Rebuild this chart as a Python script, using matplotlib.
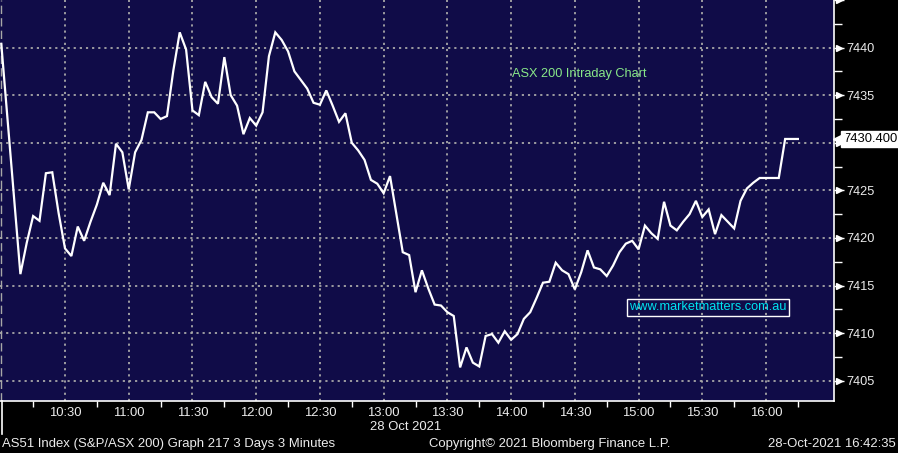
import matplotlib
matplotlib.use("Agg")
import matplotlib.pyplot as plt
import matplotlib.transforms as mtransforms
from matplotlib.lines import Line2D

plt.rcParams['font.family'] = ['Liberation Sans', 'DejaVu Sans']

# ASX 200 intraday, 3 minute bars. First bar joins the previous close,
# then prints start after the opening auction at 10:09.
prev_close = 7440.4
first_bar = "10:09"
last_bar = "16:15"
closes = [
    7416.2, 7419.5, 7422.3, 7421.8, 7426.8, 7426.9, 7422.6, 7418.9, 7418.1, 7421.2,
    7419.7, 7421.7, 7423.5, 7425.8, 7424.5, 7429.9, 7429.0, 7425.1, 7429.0, 7430.3,
    7433.2, 7433.2, 7432.5, 7432.8, 7437.6, 7441.6, 7439.8, 7433.4, 7432.9, 7436.4,
    7434.8, 7434.1, 7439.0, 7435.0, 7433.9, 7430.9, 7432.6, 7431.8, 7433.2, 7439.1,
    7441.6, 7440.8, 7439.6, 7437.5, 7436.6, 7435.7, 7434.2, 7434.0, 7435.5, 7433.9,
    7432.2, 7433.1, 7430.0, 7429.2, 7428.2, 7426.1, 7425.7, 7424.7, 7426.5, 7422.5,
    7418.5, 7418.2, 7414.3, 7416.6, 7414.7, 7413.0, 7412.9, 7412.2, 7411.8, 7406.4,
    7408.5, 7406.9, 7406.5, 7409.7, 7409.9, 7409.0, 7410.2, 7409.3, 7409.9, 7411.5,
    7412.2, 7413.7, 7415.3, 7415.4, 7417.4, 7416.6, 7416.2, 7414.6, 7416.4, 7418.7,
    7416.9, 7416.7, 7416.0, 7417.1, 7418.5, 7419.4, 7419.7, 7418.8, 7421.3, 7420.5,
    7419.9, 7423.8, 7421.3, 7420.8, 7421.7, 7422.5, 7423.9, 7422.2, 7423.0, 7420.4,
    7422.4, 7421.7, 7421.0, 7423.9, 7425.2, 7425.8, 7426.3, 7426.3, 7426.3, 7426.3,
    7430.4, 7430.4, 7430.4,
]
last_price = 7430.4

x_labels = ["10:30", "11:00", "11:30", "12:00", "12:30", "13:00", "13:30",
            "14:00", "14:30", "15:00", "15:30", "16:00"]
x_minor = ["10:15", "10:45", "11:15", "11:45", "12:15", "12:45", "13:15",
           "13:45", "14:15", "14:45", "15:15", "15:45", "16:15"]
y_major = [7405, 7410, 7415, 7420, 7425, 7430, 7435, 7440, 7445]
y_labels = ["7405", "7410", "7415", "7420", "7425", "", "7435", "7440", ""]
y_minor = [7407.5, 7412.5, 7417.5, 7422.5, 7427.5, 7432.5, 7437.5, 7442.5]


def mins(hhmm):
    h, m = hhmm.split(":")
    return (int(h) - 10) * 60 + int(m)


t = [0] + list(range(mins(first_bar), mins(last_bar) + 1, 3))
v = [prev_close] + closes

BG = "#100c48"
GRID = "#a8a8a8"
TXT = "#ececec"

fig = plt.figure(figsize=(8.98, 4.53), dpi=100, facecolor="black")
ax = fig.add_axes([0, 1 - 401 / 453, 834 / 898, 401 / 453], facecolor=BG)

ax.plot(t, v, color="white", lw=1.6, solid_joinstyle="miter", zorder=3)

ax.set_xlim(-0.6, 392)
ax.set_ylim(7402.87, 7445.0)

# grid
for lab in x_labels:
    ax.axvline(mins(lab), color=GRID, ls=(0, (1.2, 2.2)), lw=1.3, zorder=1)
for y in y_major[:-1]:
    ax.axhline(y, color=GRID, ls=(0, (1.2, 2.2)), lw=1.3, zorder=1)
ax.axvline(-0.35, color=GRID, ls=(0, (6, 3)), lw=1.0, zorder=1)

# spines
for s in ["left", "top"]:
    ax.spines[s].set_visible(False)
ax.spines["right"].set_color("white")
ax.spines["bottom"].set_color("white")
ax.spines["right"].set_linewidth(1.2)
ax.spines["bottom"].set_linewidth(1.2)

# x axis
ax.set_xticks([mins(s) for s in x_labels])
ax.set_xticklabels(x_labels)
ax.set_xticks([mins(s) for s in x_minor], minor=True)
ax.tick_params(axis="x", which="major", length=0, pad=4, labelsize=9.4,
               labelcolor=TXT)
ax.tick_params(axis="x", which="minor", length=4, width=1, color="white")

# y axis on the right
ax.yaxis.tick_right()
ax.set_yticks(y_major)
ax.set_yticklabels(y_labels)
ax.set_yticks(y_minor, minor=True)
ax.tick_params(axis="y", which="major", length=7, width=1, color="white",
               pad=2, labelsize=9.2, labelcolor=TXT)
ax.tick_params(axis="y", which="minor", length=6, width=1, color="white")

tri_tr = mtransforms.blended_transform_factory(ax.transAxes, ax.transData)
tri_tr = mtransforms.offset_copy(tri_tr, fig=fig, x=5, y=0, units="dots")
ax.plot([1] * len(y_major), y_major, ls="none", marker=">", ms=5, color="white",
        transform=tri_tr, clip_on=False, zorder=5)

# last price tag
blend = mtransforms.blended_transform_factory(ax.transAxes, ax.transData)
tag_tr = mtransforms.offset_copy(blend, fig=fig, x=5, y=0, units="dots")
ax.plot([1], [last_price], ls="none", marker="<", ms=8, color="white",
        transform=tag_tr, clip_on=False, zorder=6)
ax.annotate(f"{last_price:.3f}", xy=(1, last_price), xycoords=blend,
            xytext=(9, 0), textcoords="offset pixels", ha="left", va="center",
            fontsize=9.4, color="black", annotation_clip=False,
            bbox=dict(boxstyle="square,pad=0.18", fc="white", ec="white"))

# annotations inside the plot
ax.text(512 / 834, 1 - 74 / 401, "ASX 200 Intraday Chart", transform=ax.transAxes,
        ha="left", va="center", fontsize=9.2, color="#88e888")
ax.text(708 / 834, 1 - 307.5 / 401, "www.marketmatters.com.au",
        transform=ax.transAxes, ha="center", va="center", fontsize=9.2,
        color="#00e4f0",
        bbox=dict(boxstyle="square,pad=0.2", fc="none", ec="white", lw=1))

# day separator below the axis
fig.add_artist(Line2D([1.5 / 898, 1.5 / 898], [1 - 401 / 453, 1 - 434 / 453],
                      color="white", lw=1.2, transform=fig.transFigure))

# footer
fig.text(406 / 898, 1 - 427 / 453, "28 Oct 2021", ha="center", va="center",
         fontsize=9.4, color=TXT)
fig.text(2 / 898, 1 - 444 / 453, "AS51 Index (S&P/ASX 200) Graph 217 3 Days 3 Minutes",
         ha="left", va="center", fontsize=9.45, color=TXT)
fig.text(429 / 898, 1 - 444 / 453, "Copyright\u00a9 2021 Bloomberg Finance L.P.",
         ha="left", va="center", fontsize=9.45, color=TXT)
fig.text(896 / 898, 1 - 444 / 453, "28-Oct-2021 16:42:35", ha="right",
         va="center", fontsize=9.45, color=TXT)

fig.savefig("out.png", dpi=100, facecolor="black")
